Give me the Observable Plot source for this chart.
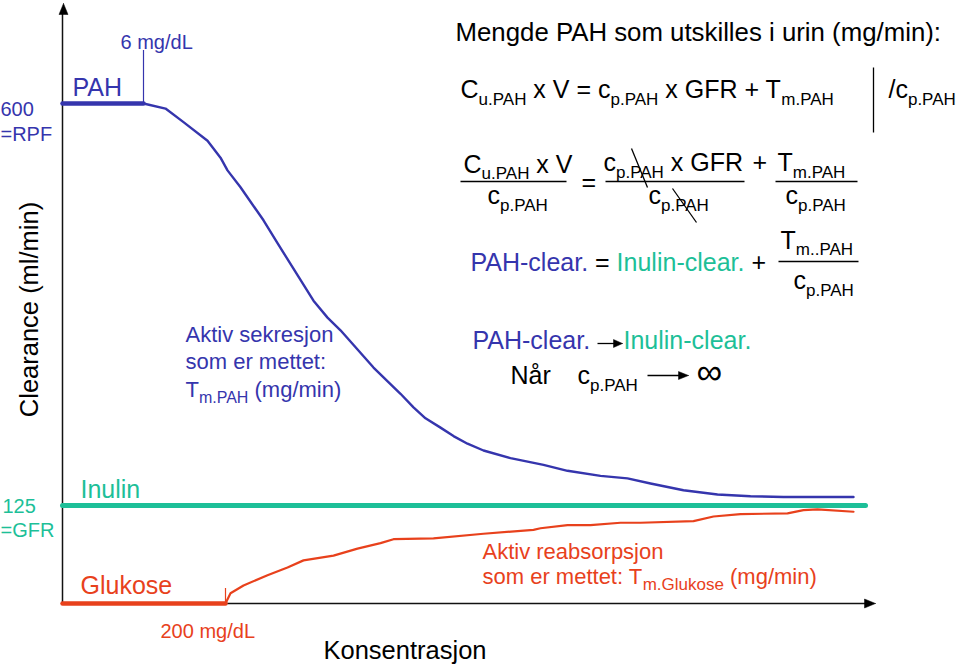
<!DOCTYPE html>
<html><head><meta charset="utf-8">
<script src="https://cdn.jsdelivr.net/npm/d3@7"></script>
<script src="https://cdn.jsdelivr.net/npm/@observablehq/plot@0.6"></script>
<style>
html,body{margin:0;padding:0;background:#fff;}
svg text{white-space:pre;}
</style>
</head><body><div id="chart"></div>
<script>
// ---------- data (concentration in arbitrary units, clearance in ml/min) ----------
const rpf = 600, gfr = 125;
const pahThresholdConc = 81;      // 6 mg/dL
const glucoseThresholdConc = 163; // 200 mg/dL
const pahPlateauConc = [0, 81];
const pahPlateauClear = [600, 600];
const pahConc  = [81,103,121,145,158,165,178,201,215,251,265,278,311,338,351,363,378,391,405,421,448,481,505,538,565,588,621,655,688,721,791];
const pahClear = [600,594,578,556,536,521,501,462,435,367,347,332,288,257,241,228,217,207,198,190,181,173,166,160,157,151,143,138,136,135,135];
const inulinConc  = [0, 803];
const inulinClear = [125, 125];
const glucosePlateauConc  = [0, 163];
const glucosePlateauClear = [0, 0];
const glucoseConc  = [163,168,181,205,225,241,271,295,318,331,371,421,471,478,505,528,558,578,631,651,678,725,741,755,791];
const glucoseClear = [0,13,23,36,46,55,61,70,77,82,83,89,94,96,100,100,103,103,105,111,114,115,119,120,117];

// ---------- styling ----------
const BLUE = "#3535ad", GREEN = "#1dbf98", RED = "#e8411c", BLACK = "#000";
const FONT = "'Liberation Sans', Arial, Helvetica, sans-serif";

const xDomain = [0, 800], xRange = [62, 862];
// schematic (non-linear) clearance axis: 0 → 603px, GFR 125 → 505px, RPF 600 → 103px
const ys = d3.scaleLinear([0, 125, 600], [603, 505, 103]);
const xs = d3.scaleLinear(xDomain, xRange);
const X = px => xs.invert(px), Y = py => ys.invert(py);

const zip = (a, b) => a.map((v, i) => ({x: v, y: b[i]}));

// text measuring for rich (subscript) runs
const ctx = document.createElement("canvas").getContext("2d");
function tw(t, size) { ctx.font = `${size}px ${FONT}`; return ctx.measureText(t).width; }
const segs = [];
function rich(runs, x0, base, {color = BLACK, size = 25, sub = 17, drop = 7} = {}) {
  let x = x0;
  for (const r of runs) {
    const o = typeof r === "string" ? {t: r} : r;
    const s = o.sub ? sub : (o.size || size);
    const lead = o.t.match(/^ */)[0];
    segs.push({t: o.t.trim(), x: x + tw(lead, s), y: o.sub ? base + drop : base, size: s, color: o.color || color, weight: o.weight});
    x += tw(o.t, s);
  }
}
const S = t => ({t, sub: true});

// heading + equations
rich(["Mengde PAH som utskilles i urin (mg/min):"], 455, 40, {size: 25.8});
rich(["C", S("u.PAH"), " x V = c", S("p.PAH"), " x GFR + T", S("m.PAH")], 460, 97);
rich(["/c", S("p.PAH")], 888, 97);
// fractions
rich(["C", S("u.PAH"), " x V"], 463, 172, {drop: 6});
rich(["c", S("p.PAH")], 487, 203);
rich(["="], 581, 190);
rich(["c", S("p.PAH"), " x GFR"], 603, 170);
rich(["+"], 752, 170);
rich(["T", S("m.PAH")], 777, 170);
rich(["c", S("p.PAH")], 648, 203);
rich(["c", S("p.PAH")], 785, 203);
// PAH-clear = Inulin-clear + T/c
rich([{t: "PAH-clear.", color: BLUE}, " = ", {t: "Inulin-clear.", color: GREEN}, " +"], 470, 270);
rich(["T", S("m..PAH")], 780, 248, {drop: 6});
rich(["c", S("p.PAH")], 793, 288);
// limit
rich([{t: "PAH-clear.", color: BLUE}], 472, 348);
rich([{t: "Inulin-clear.", color: GREEN}], 623, 348);
rich(["Når"], 510, 383);
rich(["c", S("p.PAH")], 577, 383);
rich([{t: "\u221E", size: 36}], 696, 383);
// plot labels
rich(["6 mg/dL"], 120, 48, {color: BLUE, size: 20});
rich(["PAH"], 72, 95, {color: BLUE});
rich(["600"], 0, 115, {color: BLUE, size: 20});
rich(["=RPF"], 0, 140, {color: BLUE, size: 20});
rich(["Aktiv sekresjon"], 185, 341, {color: BLUE, size: 22});
rich(["som er mettet:"], 185, 368, {color: BLUE, size: 22});
rich(["T", S("m.PAH"), " (mg/min)"], 185, 396, {color: BLUE, size: 22, sub: 16, drop: 6});
rich(["Inulin"], 80, 497, {color: GREEN});
rich(["125"], 2, 512, {color: GREEN, size: 20});
rich(["=GFR"], 0, 536, {color: GREEN, size: 20});
rich(["Glukose"], 80, 593, {color: RED});
rich(["200 mg/dL"], 160, 637, {color: RED, size: 20});
rich(["Konsentrasjon"], 323, 658, {size: 25.5});
rich(["Aktiv reabsorpsjon"], 482, 558, {color: RED, size: 22});
rich(["som er mettet: T", S("m.Glukose"), " (mg/min)"], 482, 583, {color: RED, size: 22, sub: 17, drop: 6});

// thin decoration lines (px)
const links = [
  [460, 181, 566, 181], [605, 181, 744, 181], [775, 181, 857, 181], // fraction bars
  [778, 261, 858, 261],
  [631, 148, 647, 187], [672, 188, 696, 222], // cancel strokes
  [873, 67, 873, 132],  // divide bar
  [597, 343, 616, 343], [647, 375, 680, 375] // small arrows
];
const heads = [ // tip x, tip y, dx dir, dy dir, length, half width
  [622, 343, 1, 0, 9, 4], [688, 375, 1, 0, 10, 4],
  [63, 3, 0, -1, 11, 4.5], [875, 603, 1, 0, 11, 4.5]
];
const tri = ([tx, ty, dx, dy, L, W]) => {
  const bx = tx - dx * L, by = ty - dy * L;
  return [[tx, ty], [bx - dy * W, by + dx * W], [bx + dy * W, by - dx * W], [tx, ty]].map(([a, b]) => ({x: X(a), y: Y(b)}));
};

const marks = [
  // axes
  Plot.ruleX([0], {y1: 0, y2: Y(12), stroke: "#111", strokeWidth: 1.5}),
  Plot.ruleY([0], {x1: 0, x2: X(866), stroke: "#111", strokeWidth: 1.5}),
  // inulin
  Plot.line(zip(inulinConc, inulinClear), {x: "x", y: "y", stroke: GREEN, strokeWidth: 5}),
  // PAH
  Plot.line(zip(pahPlateauConc, pahPlateauClear), {x: "x", y: "y", stroke: BLUE, strokeWidth: 4.5}),
  Plot.line(zip(pahConc, pahClear), {x: "x", y: "y", stroke: BLUE, strokeWidth: 2.4, strokeLinejoin: "round"}),
  Plot.ruleX([pahThresholdConc], {y1: rpf, y2: Y(50), stroke: BLUE, strokeWidth: 1.2}),
  // glucose
  Plot.line(zip(glucosePlateauConc, glucosePlateauClear), {x: "x", y: "y", stroke: RED, strokeWidth: 4.5}),
  Plot.line(zip(glucoseConc, glucoseClear), {x: "x", y: "y", stroke: RED, strokeWidth: 2.2, strokeLinejoin: "round"}),
  Plot.ruleX([glucoseThresholdConc], {y1: 0, y2: Y(588), stroke: RED, strokeWidth: 1.2}),
  // decorations
  Plot.link(links, {x1: d => X(d[0]), y1: d => Y(d[1]), x2: d => X(d[2]), y2: d => Y(d[3]), stroke: BLACK, strokeWidth: 1.3}),
  ...heads.map(h => Plot.line(tri(h), {x: "x", y: "y", fill: BLACK, stroke: BLACK, strokeWidth: 0.5})),
  // rotated y label
  Plot.text(["Clearance (ml/min)"], {x: X(29), y: Y(309), text: d => d, rotate: -90, fontSize: 25.5, fill: BLACK, textAnchor: "middle", lineAnchor: "middle"}),
  ...segs.map(s => Plot.text([s], {x: () => X(s.x), y: () => Y(s.y), text: d => d.t, fontSize: s.size, fill: s.color, fontWeight: s.weight || "normal", textAnchor: "start", lineAnchor: "bottom"}))
];

const chart = Plot.plot({
  width: 959, height: 665,
  x: {domain: xDomain, range: xRange, axis: null},
  // y channel values are clearances; the transform applies the schematic piecewise mapping
  y: {transform: v => ys(v), domain: [0, 665], range: [0, 665], axis: null},
  style: {background: "white", fontFamily: FONT, overflow: "visible"},
  marks
});
document.getElementById("chart").append(chart);
</script>
</body></html>
